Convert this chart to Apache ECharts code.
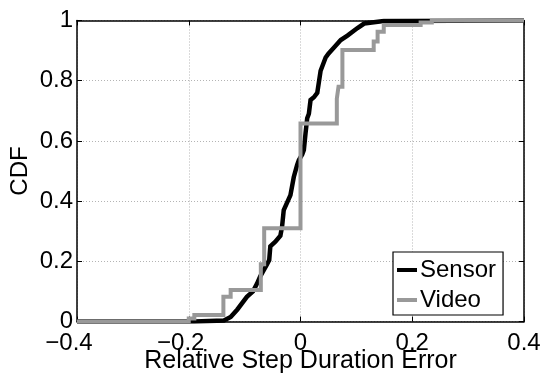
<!DOCTYPE html>
<html><head><meta charset="utf-8">
<script src="https://cdn.jsdelivr.net/npm/echarts@6/dist/echarts.min.js"></script>
<style>html,body{margin:0;padding:0;background:#fff}#c{width:543px;height:373px}</style>
</head><body><div id="c"></div>
<script>
// Data
const seriesNames = ['Sensor', 'Video'];
const sensorX = [-0.4, -0.19, -0.137, -0.125, -0.113, -0.096, -0.085, -0.078, -0.072, -0.06, -0.056, -0.054, -0.045, -0.036, -0.033, -0.03, -0.018, -0.012, -0.006, -0.003, 0.003, 0.006, 0.009, 0.012, 0.015, 0.018, 0.024, 0.03, 0.036, 0.045, 0.05, 0.06, 0.072, 0.084, 0.102, 0.114, 0.149, 0.4];
const sensorY = [0, 0, 0.003, 0.015, 0.04, 0.082, 0.1, 0.125, 0.15, 0.19, 0.204, 0.25, 0.265, 0.285, 0.315, 0.37, 0.42, 0.48, 0.52, 0.536, 0.555, 0.57, 0.625, 0.675, 0.69, 0.736, 0.745, 0.76, 0.833, 0.877, 0.89, 0.91, 0.935, 0.95, 0.975, 0.99, 0.998, 1];
// Video: jump points of the step CDF
const videoX = [-0.4, -0.2, -0.19, -0.138, -0.125, -0.071, -0.065, 0, 0.065, 0.068, 0.075, 0.131, 0.138, 0.149, 0.215, 0.235, 0.4];
const videoY = [0, 0.01, 0.022, 0.082, 0.105, 0.19, 0.31, 0.658, 0.74, 0.78, 0.902, 0.93, 0.963, 0.985, 0.993, 1, 1];
const xTickLabels = ['\u22120.4', '\u22120.2', '0', '0.2', '0.4'];
const yTickLabels = ['0', '0.2', '0.4', '0.6', '0.8', '1'];
const xName = 'Relative Step Duration Error';
const yName = 'CDF';

const FONT = '"Liberation Sans", Arial, Helvetica, sans-serif';
const zip = (xs, ys) => xs.map((x, i) => [x, ys[i]]);
const gridLine = { show: true, lineStyle: { color: '#b4b4b4', width: 1, type: [1, 2] } };
const axisLineS = { show: true, onZero: false, lineStyle: { color: '#000', width: 1.5 } };
const tickS = { show: true, inside: true, length: 5, lineStyle: { color: '#000', width: 1 } };

const chart = echarts.init(document.getElementById('c'), null, { renderer: 'canvas' });
chart.setOption({
  animation: false,
  backgroundColor: '#fff',
  textStyle: { fontFamily: FONT, color: '#000' },
  grid: { left: 77, right: 19, top: 20.5, bottom: 51.5, containLabel: false, outerBoundsMode: 'none' },
  legend: {
    data: seriesNames,
    orient: 'vertical',
    left: 393, top: 252,
    backgroundColor: '#fff',
    borderColor: '#000', borderWidth: 1.2,
    padding: [5, 7, 2, 4],
    itemWidth: 20, itemHeight: 4, itemGap: 4,
    icon: 'rect',
    textStyle: { fontFamily: FONT, fontSize: 24, color: '#000', lineHeight: 26, padding: [0, 0, 0, -2] }
  },
  xAxis: [{
    type: 'value', min: -0.4, max: 0.4, interval: 0.2,
    name: xName, nameLocation: 'middle', nameGap: 27, nameMoveOverlap: false,
    nameTextStyle: { fontFamily: FONT, fontSize: 25, color: '#000' },
    axisLine: axisLineS, axisTick: tickS, splitLine: gridLine,
    axisLabel: { fontFamily: FONT, fontSize: 24, color: '#000', margin: 10,
      formatter: (v) => {
        const s = xTickLabels[Math.round((v + 0.4) / 0.2)];
        return v < 0 ? '{neg|' + s + '}' : s;
      },
      rich: { neg: { fontFamily: FONT, fontSize: 24, color: '#000', padding: [0, 16, 0, 0] } } }
  }, {
    type: 'value', min: -0.4, max: 0.4, interval: 0.2, position: 'top',
    axisLine: axisLineS, axisTick: tickS, splitLine: { show: false }, axisLabel: { show: false }
  }],
  yAxis: [{
    type: 'value', min: 0, max: 1, interval: 0.2,
    name: yName, nameLocation: 'middle', nameGap: 45, nameRotate: 90, nameMoveOverlap: false,
    nameTextStyle: { fontFamily: FONT, fontSize: 24, color: '#000' },
    axisLine: axisLineS, axisTick: tickS, splitLine: gridLine,
    axisLabel: { fontFamily: FONT, fontSize: 24, color: '#000', margin: 4,
      formatter: (v) => yTickLabels[Math.round(v / 0.2)] }
  }, {
    type: 'value', min: 0, max: 1, interval: 0.2, position: 'right',
    axisLine: axisLineS, axisTick: tickS, splitLine: { show: false }, axisLabel: { show: false }
  }],
  series: [{
    name: seriesNames[0], type: 'line', showSymbol: false, z: 2,
    data: zip(sensorX, sensorY), lineStyle: { color: '#000', width: 4.5, join: 'miter' },
    itemStyle: { color: '#000' }
  }, {
    name: seriesNames[1], type: 'line', step: 'end', showSymbol: false, z: 3,
    data: zip(videoX, videoY), lineStyle: { color: '#999999', width: 4, cap: 'butt', join: 'miter' },
    itemStyle: { color: '#999999' }
  }]
});
</script></body></html>
